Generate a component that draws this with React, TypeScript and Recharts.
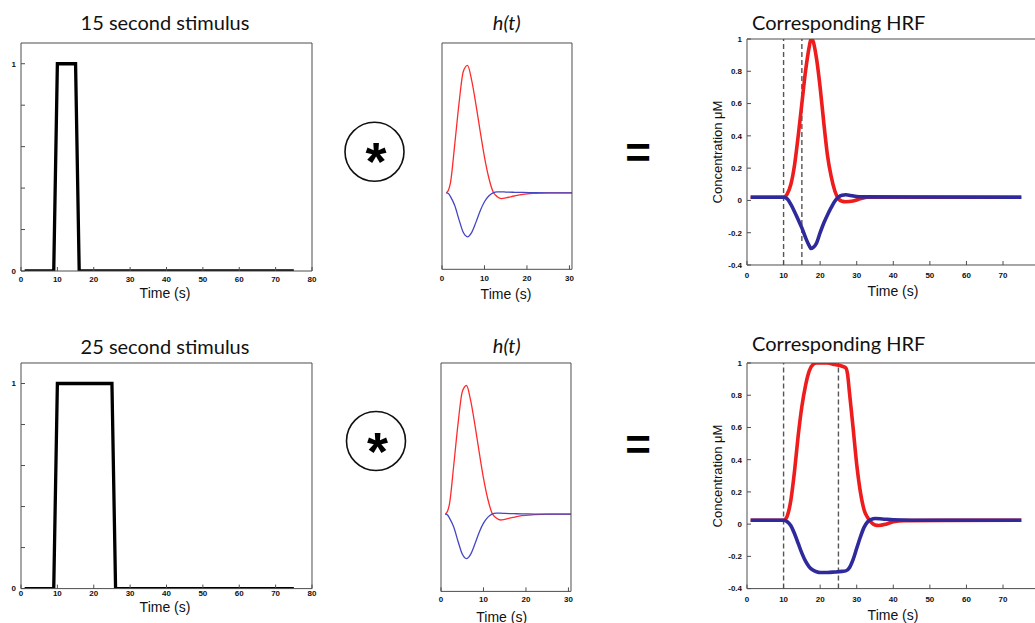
import React from "react";
import { LineChart, Line, XAxis, YAxis, ReferenceLine } from "recharts";

// boxcar stimuli (time s, amplitude)
const stim15Time = [1, 9, 10, 15, 16, 75];
const stim15Value = [0, 0, 1, 1, 0, 0];
const stim25Time = [1, 9, 10, 25, 26, 75];
const stim25Value = [0, 0, 1, 1, 0, 0];

// impulse response h(t), normalised
const hTime = [1, 1.5, 2, 3, 4, 5, 6, 7, 8, 9, 10, 11, 12, 13, 14, 15, 17, 19, 22, 25, 30.6];
const hOxy = [0, 0.02, 0.08, 0.38, 0.7, 0.95, 1.0, 0.88, 0.69, 0.48, 0.28, 0.12, 0.01, -0.03, -0.045, -0.04, -0.025, -0.012, -0.004, 0, 0];
const hDeoxy = [0, -0.005, -0.03, -0.1, -0.21, -0.31, -0.345, -0.31, -0.23, -0.14, -0.07, -0.025, 0, 0.008, 0.008, 0.006, 0.004, 0.003, 0.001, 0, 0];

// HRF for the 15 s stimulus
const hrf15OxyTime = [1, 10, 10.5, 11, 12, 13, 14, 15, 16, 17, 17.5, 18, 19, 20, 21, 22, 23, 24, 25, 26, 27, 29, 31, 33, 75];
const hrf15Oxy = [0.02, 0.02, 0.025, 0.04, 0.1, 0.22, 0.4, 0.6, 0.8, 0.95, 1.0, 0.99, 0.88, 0.7, 0.48, 0.28, 0.15, 0.06, 0.01, -0.005, -0.008, -0.004, 0.01, 0.02, 0.02];
const hrf15DeoxyTime = [1, 10, 11, 12, 13, 14, 15, 16, 17, 17.5, 18, 19, 20, 21, 22, 23, 24, 25, 26, 27, 29, 32, 75];
const hrf15Deoxy = [0.02, 0.02, 0.01, -0.025, -0.07, -0.12, -0.17, -0.23, -0.28, -0.297, -0.293, -0.265, -0.2, -0.14, -0.09, -0.045, -0.005, 0.02, 0.032, 0.035, 0.028, 0.022, 0.02];

// HRF for the 25 s stimulus
const hrf25OxyTime = [1, 10, 10.5, 11, 12, 13, 14, 15, 16, 17, 18, 19, 20, 22, 24, 26, 27, 27.5, 28, 29, 30, 31, 32, 33, 34, 35, 36, 38, 40, 43, 75];
const hrf25Oxy = [0.024, 0.024, 0.03, 0.05, 0.15, 0.33, 0.55, 0.73, 0.86, 0.95, 0.99, 1.0, 1.0, 1.0, 0.99, 0.98, 0.97, 0.93, 0.82, 0.6, 0.37, 0.2, 0.09, 0.04, 0.01, -0.005, -0.008, 0.0, 0.015, 0.022, 0.024];
const hrf25DeoxyTime = [1, 10, 11, 12, 13, 14, 15, 16, 17, 18, 19, 20, 22, 24, 26, 27, 28, 29, 30, 31, 32, 33, 34, 35, 37, 40, 45, 75];
const hrf25Deoxy = [0.024, 0.024, 0.015, -0.01, -0.06, -0.12, -0.18, -0.23, -0.265, -0.285, -0.295, -0.3, -0.3, -0.297, -0.293, -0.29, -0.27, -0.22, -0.15, -0.08, -0.02, 0.015, 0.03, 0.035, 0.032, 0.027, 0.024, 0.024];

const timeTicks80 = [0, 10, 20, 30, 40, 50, 60, 70, 80];
const timeTicks30 = [0, 10, 20, 30];
const stimTicks = [0, 0.2, 0.4, 0.6, 0.8, 1];
const hrfTicks = [-0.4, -0.2, 0, 0.2, 0.4, 0.6, 0.8, 1];

const pairs = (t: number[], v: number[]) => t.map((x, i) => ({ t: x, v: v[i] }));

const RED = "#ee1c1c";
const BLUE = "#2f2a9c";
const H_RED = "#ff2b2b";
const H_BLUE = "#4646c4";
const BOX = "#4d4d4d";
const SANS = "'Liberation Sans', Arial, sans-serif";
const TITLE = "Lato, 'Open Sans', sans-serif";
const tickStyle = { fontSize: 8, fontWeight: 700, fill: "#111", fontFamily: SANS };

type Trace = { data: { t: number; v: number }[]; color: string; width: number; curve: "linear" | "monotone" };

type PanelProps = {
  left: number;
  top: number;
  width: number;
  height: number;
  xMax: number;
  xTicks: number[];
  xGap: number;
  yDomain: [number, number];
  yTicks?: number[];
  yFormat?: (v: number) => string;
  traces: Trace[];
  dashed?: number[];
};

function Panel(p: PanelProps) {
  const L = 44, R = 10, T = 10, B = 24;
  const showY = !!p.yTicks;
  return (
    <div style={{ position: "absolute", left: p.left - L, top: p.top - T }}>
      <LineChart width={L + p.width + R} height={T + p.height + B} margin={{ top: 0, right: 0, bottom: 0, left: 0 }}>
        <XAxis type="number" dataKey="t" domain={[0, p.xMax]} ticks={p.xTicks} interval={0} height={B}
          stroke={BOX} tickSize={-4} tickMargin={p.xGap} tick={tickStyle} allowDataOverflow />
        <XAxis xAxisId="top" orientation="top" type="number" dataKey="t" domain={[0, p.xMax]} ticks={p.xTicks}
          interval={0} height={T} stroke={BOX} tickSize={-4} tick={false} allowDataOverflow />
        <YAxis type="number" domain={p.yDomain} ticks={p.yTicks} interval={0} width={L} stroke={BOX}
          tickSize={-4} tickMargin={9} tick={showY ? tickStyle : false} tickLine={showY}
          tickFormatter={p.yFormat} allowDataOverflow />
        <YAxis yAxisId="right" orientation="right" type="number" domain={p.yDomain} ticks={p.yTicks} interval={0}
          width={R} stroke={BOX} tickSize={-4} tick={false} tickLine={showY} allowDataOverflow />
        {(p.dashed || []).map((x) => (
          <ReferenceLine key={x} x={x} stroke="#555" strokeWidth={1.4} strokeDasharray="5 3" />
        ))}
        {p.traces.map((tr, i) => (
          <Line key={i} data={tr.data} dataKey="v" type={tr.curve} stroke={tr.color} strokeWidth={tr.width}
            dot={false} activeDot={false} isAnimationActive={false} />
        ))}
      </LineChart>
    </div>
  );
}

function Label({ x, y, children, style }: { x: number; y: number; children: React.ReactNode; style?: React.CSSProperties }) {
  return (
    <div style={{ position: "absolute", left: x, top: y, transform: "translate(-50%, -50%)", whiteSpace: "nowrap", lineHeight: 1, ...style }}>
      {children}
    </div>
  );
}

const titleStyle: React.CSSProperties = { fontFamily: TITLE, fontSize: 20, color: "#111" };
const timeStyle: React.CSSProperties = { fontFamily: SANS, fontSize: 14, color: "#111" };
const concStyle: React.CSSProperties = { fontFamily: SANS, fontSize: 13, color: "#111" };

const stimFmt = (v: number) => (v === 0 || v === 1 ? String(v) : "");
const hrfFmt = (v: number) => String(v);

export default function App() {
  const stimTrace = (t: number[], v: number[]): Trace[] => [{ data: pairs(t, v), color: "#000", width: 3.3, curve: "linear" }];
  const hTraces: Trace[] = [
    { data: pairs(hTime, hOxy), color: H_RED, width: 1.3, curve: "monotone" },
    { data: pairs(hTime, hDeoxy), color: H_BLUE, width: 1.3, curve: "monotone" },
  ];
  return (
    <div style={{ position: "absolute", left: 0, top: 0, width: 1035, height: 623, overflow: "hidden", background: "#fff" }}>
      {/* row 1 */}
      <Label x={165} y={22} style={titleStyle}>15 second stimulus</Label>
      <Panel left={21} top={43} width={291} height={228} xMax={80} xTicks={timeTicks80} xGap={9}
        yDomain={[0, 1.1]} yTicks={stimTicks} yFormat={stimFmt} traces={stimTrace(stim15Time, stim15Value)} />
      <Label x={165} y={293} style={timeStyle}>Time (s)</Label>

      <Label x={506.7} y={22} style={{ ...titleStyle, fontStyle: "italic" }}>h(t)</Label>
      <Panel left={441.7} top={42.7} width={130} height={226.3} xMax={30.6} xTicks={timeTicks30} xGap={10}
        yDomain={[-0.6, 1.175]} traces={hTraces} />
      <Label x={506} y={294} style={timeStyle}>Time (s)</Label>

      <Label x={838.7} y={22} style={titleStyle}>Corresponding HRF</Label>
      <Panel left={746.7} top={39} width={292.6} height={226} xMax={80} xTicks={timeTicks80} xGap={11}
        yDomain={[-0.4, 1]} yTicks={hrfTicks} yFormat={hrfFmt} dashed={[10, 15]}
        traces={[
          { data: pairs(hrf15OxyTime, hrf15Oxy), color: RED, width: 3.6, curve: "monotone" },
          { data: pairs(hrf15DeoxyTime, hrf15Deoxy), color: BLUE, width: 3.6, curve: "monotone" },
        ]} />
      <Label x={893} y={291} style={timeStyle}>Time (s)</Label>
      <Label x={716.7} y={152} style={{ ...concStyle, transform: "translate(-50%, -50%) rotate(-90deg)" }}>Concentration μM</Label>

      {/* row 2 */}
      <Label x={165} y={346} style={titleStyle}>25 second stimulus</Label>
      <Panel left={21} top={362.7} width={291} height={225.6} xMax={80} xTicks={timeTicks80} xGap={5.5}
        yDomain={[0, 1.1]} yTicks={stimTicks} yFormat={stimFmt} traces={stimTrace(stim25Time, stim25Value)} />
      <Label x={165} y={607} style={timeStyle}>Time (s)</Label>

      <Label x={506.7} y={345} style={{ ...titleStyle, fontStyle: "italic" }}>h(t)</Label>
      <Panel left={441} top={363.3} width={130} height={228.4} xMax={30.6} xTicks={timeTicks30} xGap={9.3}
        yDomain={[-0.6, 1.175]} traces={hTraces} />
      <Label x={501.7} y={616.7} style={timeStyle}>Time (s)</Label>

      <Label x={838.7} y={342.7} style={titleStyle}>Corresponding HRF</Label>
      <Panel left={746.7} top={362.7} width={292.6} height={225.6} xMax={80} xTicks={timeTicks80} xGap={12}
        yDomain={[-0.4, 1]} yTicks={hrfTicks} yFormat={hrfFmt} dashed={[10, 25]}
        traces={[
          { data: pairs(hrf25OxyTime, hrf25Oxy), color: RED, width: 3.6, curve: "monotone" },
          { data: pairs(hrf25DeoxyTime, hrf25Deoxy), color: BLUE, width: 3.6, curve: "monotone" },
        ]} />
      <Label x={893} y={615} style={timeStyle}>Time (s)</Label>
      <Label x={716.7} y={475.5} style={{ ...concStyle, transform: "translate(-50%, -50%) rotate(-90deg)" }}>Concentration μM</Label>

      {/* convolution and equals symbols */}
      <svg width={1035} height={623} style={{ position: "absolute", left: 0, top: 0, pointerEvents: "none" }}>
        <circle cx={374.5} cy={151.7} r={29.5} fill="none" stroke="#111" strokeWidth={1.6} />
        <text x={376} y={180} textAnchor="middle" fontFamily={SANS} fontWeight={700} fontSize={54} fill="#000">*</text>
        <circle cx={376} cy={441} r={29.5} fill="none" stroke="#111" strokeWidth={1.6} />
        <text x={377.5} y={469.5} textAnchor="middle" fontFamily={SANS} fontWeight={700} fontSize={54} fill="#000">*</text>
        <text x={638} y={168} textAnchor="middle" fontFamily={SANS} fontWeight={700} fontSize={44} fill="#000">=</text>
        <text x={638} y={460} textAnchor="middle" fontFamily={SANS} fontWeight={700} fontSize={44} fill="#000">=</text>
      </svg>
    </div>
  );
}
